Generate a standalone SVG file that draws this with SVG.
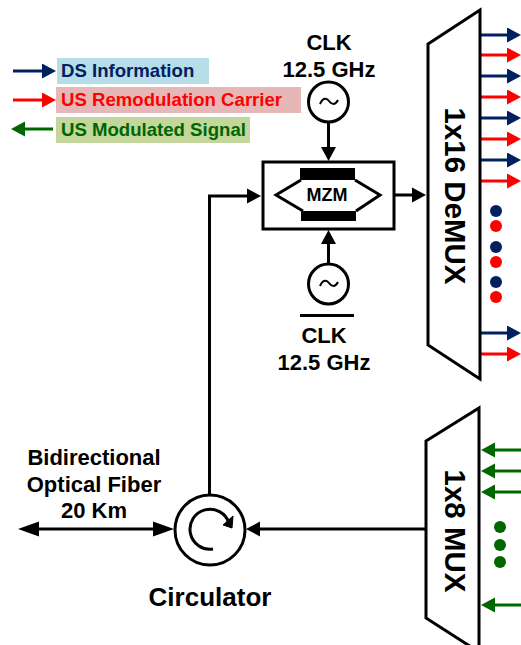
<svg xmlns="http://www.w3.org/2000/svg" width="521" height="645" viewBox="0 0 521 645">
<style>
text{font-family:"Liberation Sans",Arial,sans-serif;font-weight:700;fill:#000;text-anchor:middle}
.t{font-size:22px}
.l{font-size:18.600px;text-anchor:start}
.k{fill:none;stroke:#000;stroke-width:3}
.w{fill:#fff;stroke:#000;stroke-width:3;stroke-linejoin:miter}
.n{stroke:#002060;stroke-width:3}
.r{stroke:#f00;stroke-width:3}
.g{stroke:#006600;stroke-width:3}
</style>
<defs>
<marker id="ak" markerUnits="userSpaceOnUse" markerWidth="15" markerHeight="16" refX="6" refY="7.500" orient="auto-start-reverse" overflow="visible"><path d="M0 0L14 7.500L0 15Z" fill="#000"/></marker>
<marker id="al" markerUnits="userSpaceOnUse" markerWidth="22" markerHeight="16" refX="8" refY="7.500" orient="auto-start-reverse" overflow="visible"><path d="M0 0L21 7.500L0 15Z" fill="#000"/></marker>
<marker id="an" markerUnits="userSpaceOnUse" markerWidth="15" markerHeight="16" refX="6" refY="7.500" orient="auto"><path d="M0 0L14 7.500L0 15Z" fill="#002060"/></marker>
<marker id="ar" markerUnits="userSpaceOnUse" markerWidth="15" markerHeight="16" refX="6" refY="7.500" orient="auto"><path d="M0 0L14 7.500L0 15Z" fill="#f00"/></marker>
<marker id="ag" markerUnits="userSpaceOnUse" markerWidth="15" markerHeight="16" refX="6" refY="7.500" orient="auto"><path d="M0 0L14 7.500L0 15Z" fill="#006600"/></marker>
</defs>
<g id="legend">
<rect x="57" y="58" width="152" height="26" fill="#b7dde8"/>
<rect x="56" y="87" width="245" height="26" fill="#e5b8b7"/>
<rect x="56" y="117" width="194" height="26" fill="#c3d69b"/>
<text class="l" x="61" y="77" style="fill:#002060">DS Information</text>
<text class="l" x="61" y="106" style="fill:#f00">US Remodulation Carrier</text>
<text class="l" x="61" y="135.500" style="fill:#006600">US Modulated Signal</text>
</g>
<g id="connectors">
<line class="n" x1="13" y1="71" x2="48" y2="71" marker-end="url(#an)"/>
<line class="r" x1="13" y1="100" x2="48" y2="100" marker-end="url(#ar)"/>
<line class="g" x1="53" y1="129" x2="19" y2="129" marker-end="url(#ag)"/>
<line class="k" x1="328.500" y1="122" x2="328.500" y2="153" marker-end="url(#ak)"/>
<line class="k" x1="328.500" y1="264" x2="328.500" y2="238" marker-end="url(#ak)"/>
<line class="k" x1="394" y1="195" x2="418" y2="195" marker-end="url(#ak)"/>
<path class="k" d="M209.500 495V196H253" marker-end="url(#ak)"/>
<line class="k" x1="31" y1="529" x2="161" y2="529" marker-start="url(#al)" marker-end="url(#al)"/>
<line class="k" x1="426" y1="529" x2="254" y2="529" marker-end="url(#ak)"/>
<g id="demux-outputs">
<line class="n" x1="481" y1="35" x2="513" y2="35" marker-end="url(#an)"/>
<line class="r" x1="481" y1="55" x2="513" y2="55" marker-end="url(#ar)"/>
<line class="n" x1="481" y1="76" x2="513" y2="76" marker-end="url(#an)"/>
<line class="r" x1="481" y1="97" x2="513" y2="97" marker-end="url(#ar)"/>
<line class="n" x1="481" y1="118" x2="513" y2="118" marker-end="url(#an)"/>
<line class="r" x1="481" y1="139" x2="513" y2="139" marker-end="url(#ar)"/>
<line class="n" x1="481" y1="160" x2="513" y2="160" marker-end="url(#an)"/>
<line class="r" x1="481" y1="181" x2="513" y2="181" marker-end="url(#ar)"/>
<line class="n" x1="481" y1="333" x2="513" y2="333" marker-end="url(#an)"/>
<line class="r" x1="481" y1="354" x2="513" y2="354" marker-end="url(#ar)"/>
</g>
<g id="mux-inputs">
<line class="g" x1="521" y1="450" x2="489" y2="450" marker-end="url(#ag)"/>
<line class="g" x1="521" y1="471" x2="489" y2="471" marker-end="url(#ag)"/>
<line class="g" x1="521" y1="492" x2="489" y2="492" marker-end="url(#ag)"/>
<line class="g" x1="521" y1="605" x2="489" y2="605" marker-end="url(#ag)"/>
</g>
</g>
<g id="clk-top">
<text class="t" x="329" y="50">CLK</text>
<text class="t" x="329" y="77">12.5 GHz</text>
<circle class="w" cx="328.500" cy="102" r="20"/>
<path class="k" style="stroke-width:2" d="M320 104C323 97 327 98 329 101S335 106 338 100"/>
</g>
<g id="clk-bottom">
<circle class="w" cx="328.500" cy="284" r="20"/>
<path class="k" style="stroke-width:2" d="M320 286C323 279 327 280 329 283S335 288 338 282"/>
<line class="k" x1="300" y1="315.500" x2="354" y2="315.500"/>
<text class="t" x="324" y="343">CLK</text>
<text class="t" x="324" y="370">12.5 GHz</text>
</g>
<g id="mzm">
<rect class="w" x="263" y="162" width="131" height="67"/>
<path class="k" d="M301 180L276 195L303 211M355 180L380 195L356 211"/>
<rect x="300" y="168" width="55" height="12" fill="#000"/>
<rect x="301" y="211" width="55" height="10" fill="#000"/>
<text x="327" y="200.500" style="font-size:18px">MZM</text>
</g>
<g id="demux">
<polygon class="w" points="428,44 480,10 480,379 428,345"/>
<text transform="translate(445 196) rotate(90)" style="font-size:29.500px">1x16 DeMUX</text>
<g>
<circle cx="496" cy="211" r="6" fill="#002060"/>
<circle cx="496" cy="226" r="6" fill="#f00"/>
<circle cx="496" cy="247" r="6" fill="#002060"/>
<circle cx="496" cy="262" r="6" fill="#f00"/>
<circle cx="496" cy="282" r="6" fill="#002060"/>
<circle cx="496" cy="297" r="6" fill="#f00"/>
</g>
</g>
<g id="mux">
<polygon class="w" points="426,441 479,408 479,652 426,618"/>
<text transform="translate(445 531) rotate(90)" style="font-size:29.500px">1x8 MUX</text>
<circle cx="500" cy="527" r="6" fill="#006600"/>
<circle cx="500" cy="545" r="6" fill="#006600"/>
<circle cx="500" cy="562" r="6" fill="#006600"/>
</g>
<g id="circulator">
<circle class="w" cx="210" cy="530" r="35"/>
<path class="k" d="M213 549A20 20 0 1 1 229 523"/>
<path d="M223 525L233 516L232 528Z" fill="#000" stroke="#000" stroke-width="1"/>
<text x="210" y="606" style="font-size:26px">Circulator</text>
</g>
<g id="fiber-label">
<text class="t" x="94" y="465">Bidirectional</text>
<text class="t" x="94" y="492">Optical Fiber</text>
<text class="t" x="94" y="518">20 Km</text>
</g>
</svg>
